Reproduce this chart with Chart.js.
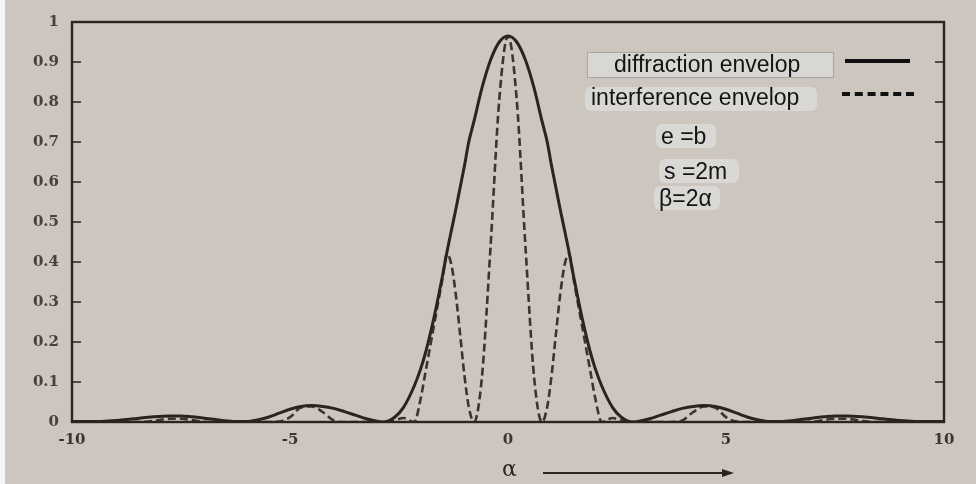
<!DOCTYPE html>
<html>
<head>
<meta charset="utf-8">
<script src="https://cdn.jsdelivr.net/npm/chart.js@4.4.1/dist/chart.umd.min.js"></script>
<style>
  body { margin: 0; background: #fff; }
  #wrap { position: relative; width: 976px; height: 484px; background: #ccc6bf; overflow: hidden; }
  #strip { position: absolute; left: 0; top: 0; width: 5px; height: 484px; background: #f4f4f4; }
  #myChart { position: absolute; left: 0; top: 0; }
  .note { position: absolute; font-family: 'Liberation Sans', Arial, sans-serif; font-size: 23px; line-height: 23px; color: #141414; white-space: nowrap; }
  .patch { position: absolute; background: #d9d8d5; border-radius: 6px; }
  #legendBox { position: absolute; left: 587px; top: 52px; width: 245px; height: 24px; background: #d8d7d4; border: 1px solid #a9a6a2; }
  .sample { position: absolute; height: 0; }
</style>
</head>
<body>
<div id="wrap">
  <div id="strip"></div>
  <canvas id="myChart" width="976" height="484"></canvas>

  <div id="legendBox"></div>
  <div class="note" style="left:614px; top:53px;">diffraction envelop</div>
  <div class="sample" style="left:845px; top:59px; width:65px; border-top:4px solid #111;"></div>

  <div class="patch" style="left:585px; top:87px; width:232px; height:24px;"></div>
  <div class="note" style="left:591px; top:86px;">interference envelop</div>
  <div class="sample" style="left:842px; top:92px; width:72px; border-top:4px dashed #111;"></div>

  <div class="patch" style="left:656px; top:124px; width:60px; height:24px;"></div>
  <div class="note" style="left:661px; top:125px;">e =b</div>
  <div class="patch" style="left:659px; top:159px; width:80px; height:24px;"></div>
  <div class="note" style="left:664px; top:160px;">s =2m</div>
  <div class="patch" style="left:654px; top:186px; width:66px; height:24px;"></div>
  <div class="note" style="left:659px; top:187px;">β=2α</div>

  <div class="note" style="left:502px; top:458px; font-family:'DejaVu Serif', serif; font-size:22px; line-height:22px; color:#2a2522;">α</div>
  <svg style="position:absolute; left:540px; top:466px;" width="200" height="14">
    <line x1="3" y1="7" x2="186" y2="7" stroke="#2a2522" stroke-width="2"/>
    <polygon points="194,7 182,3 182,11" fill="#2a2522"/>
  </svg>
</div>

<script>
// alpha positions
const alphaValues = [
    -10, -9.75, -9.5, -9.25, -9, -8.75, -8.5, -8.25, -8, -7.75, -7.5, -7.25, -7, -6.75, -6.5, -6.25,
    -6, -5.75, -5.5, -5.25, -5, -4.75, -4.5, -4.25, -4, -3.75, -3.5, -3.25, -3,
    -2.87, -2.6, -2.4, -2.15, -2, -1.9, -1.8, -1.7, -1.6, -1.5, -1.4, -1.3, -1.2, -1.1, -1, -0.9,
    -0.78, -0.6, -0.4, -0.2, 0,
    0.2, 0.4, 0.6, 0.78,
    0.9, 1, 1.1, 1.2, 1.3, 1.4, 1.5, 1.6, 1.7, 1.8, 1.9, 2, 2.15, 2.4, 2.6, 2.87,
    3, 3.25, 3.5, 3.75, 4, 4.25, 4.5, 4.75, 5, 5.25, 5.5, 5.75, 6, 6.25, 6.5, 6.75,
    7, 7.25, 7.5, 7.75, 8, 8.25, 8.5, 8.75, 9, 9.25, 9.5, 9.75, 10
];

// solid curve
const diffraction = [
    0.001, 0.001, 0.001, 0.002, 0.004, 0.006, 0.009, 0.012, 0.014, 0.015, 0.015, 0.013, 0.010, 0.007, 0.003, 0.001,
    0.001, 0.005, 0.012, 0.022, 0.032, 0.039, 0.041, 0.039, 0.034, 0.026, 0.017, 0.008, 0.002,
    0, 0.012, 0.036, 0.090, 0.134, 0.170, 0.213, 0.260, 0.312, 0.367, 0.425, 0.478, 0.530, 0.585, 0.640, 0.700,
    0.752, 0.834, 0.905, 0.950, 0.965,
    0.950, 0.905, 0.834, 0.752,
    0.700, 0.640, 0.585, 0.530, 0.478, 0.425, 0.367, 0.312, 0.260, 0.213, 0.170, 0.134, 0.090, 0.036, 0.012, 0,
    0.002, 0.008, 0.017, 0.026, 0.034, 0.039, 0.041, 0.039, 0.032, 0.022, 0.012, 0.005, 0.001, 0.001, 0.003, 0.007,
    0.010, 0.013, 0.015, 0.015, 0.014, 0.012, 0.009, 0.006, 0.004, 0.002, 0.001, 0.001, 0.001
];

// dashed curve
const interference = [
    0, 0, 0, 0, 0, 0, 0, 0.001, 0.005, 0.008, 0.008, 0.005, 0.001, 0, 0, 0,
    0, 0, 0, 0.001, 0.012, 0.036, 0.039, 0.025, 0.004, 0, 0, 0, 0,
    0, 0.004, 0.010, 0, 0.060, 0.120, 0.180, 0.240, 0.300, 0.360, 0.420, 0.394, 0.321, 0.221, 0.117, 0.038,
    0, 0.110, 0.439, 0.806, 0.965,
    0.806, 0.439, 0.110, 0,
    0.038, 0.117, 0.221, 0.321, 0.394, 0.420, 0.360, 0.300, 0.240, 0.180, 0.120, 0.060, 0, 0.010, 0.004, 0,
    0, 0, 0, 0, 0.004, 0.025, 0.039, 0.036, 0.012, 0.001, 0, 0, 0, 0, 0, 0,
    0.001, 0.005, 0.008, 0.008, 0.005, 0.001, 0, 0, 0, 0, 0, 0, 0
];

const inkColor = '#2a2421';
const tickFont = { family: "'DejaVu Serif', 'Liberation Serif', serif", size: 15, weight: 'bold' };

toPoints = (ys) => alphaValues.map((a, i) => ({ x: a, y: ys[i] }));

// frame round the plot and the small inward ticks on both sides
const framePlugin = {
    id: 'frame',
    afterDraw(chart) {
        let c = chart.ctx;
        let area = chart.chartArea;
        let yScale = chart.scales.y;
        c.save();
        c.strokeStyle = inkColor;
        c.lineWidth = 2.4;
        c.strokeRect(area.left, area.top, area.right - area.left, area.bottom - area.top);
        c.lineWidth = 1.6;
        yScale.ticks.forEach(t => {
            if (t.value <= 0 || t.value >= 1) return;
            let py = yScale.getPixelForValue(t.value);
            c.beginPath();
            c.moveTo(area.left, py);
            c.lineTo(area.left + 9, py);
            c.moveTo(area.right, py);
            c.lineTo(area.right - 9, py);
            c.stroke();
        });
        c.restore();
    }
};

let ctx = document.getElementById('myChart').getContext('2d');
let myChart = new Chart(ctx, {
    type: 'line',
    data: {
        datasets: [{
            label: 'diffraction envelop',
            data: toPoints(diffraction),
            borderColor: inkColor,
            borderWidth: 3,
            pointRadius: 0,
            cubicInterpolationMode: 'monotone',
            fill: false
        }, {
            label: 'interference envelop',
            data: toPoints(interference),
            borderColor: '#3b3430',
            borderWidth: 2.6,
            borderDash: [8, 4],
            pointRadius: 0,
            cubicInterpolationMode: 'monotone',
            fill: false
        }]
    },
    options: {
        responsive: false,
        animation: false,
        layout: { padding: { left: 0, right: 32, top: 20, bottom: 0 } },
        plugins: {
            legend: { display: false },
            tooltip: { enabled: false }
        },
        scales: {
            x: {
                type: 'linear',
                min: -10,
                max: 10,
                afterFit: s => { s.height = 62; },
                grid: { display: false, drawTicks: false },
                border: { display: false },
                ticks: {
                    stepSize: 5,
                    padding: 9,
                    color: '#3a3531',
                    font: tickFont,
                    callback: v => String(v)
                }
            },
            y: {
                min: 0,
                max: 1,
                afterFit: s => { s.width = 72; },
                grid: { display: false, drawTicks: false },
                border: { display: false },
                ticks: {
                    stepSize: 0.1,
                    padding: 13,
                    color: '#46413c',
                    font: tickFont,
                    callback: v => (v === 0 ? '0' : v === 1 ? '1' : v.toFixed(1))
                }
            }
        }
    },
    plugins: [framePlugin]
});
</script>
</body>
</html>
